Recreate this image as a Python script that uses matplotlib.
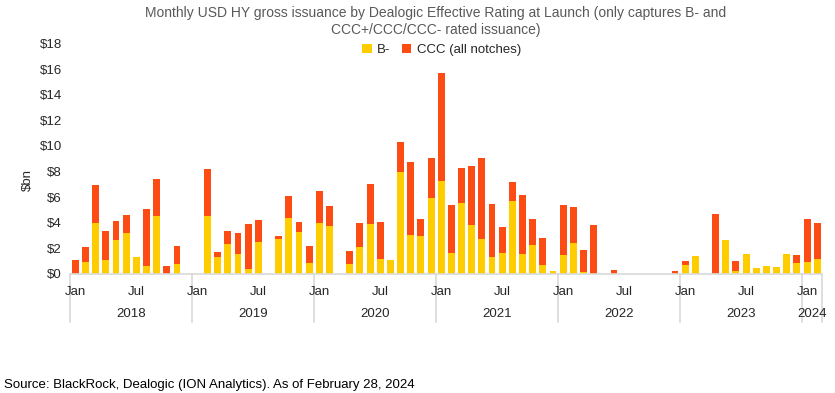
import matplotlib as mpl
mpl.use('Agg')
import matplotlib.pyplot as plt
import matplotlib.transforms as mtransforms
import numpy as np

plt.rcParams['font.family'] = ['Liberation Sans', 'DejaVu Sans']

# monthly issuance, Jan 2018 .. Feb 2024 ($bn)
b_minus = [
    0.0, 0.96, 4.0, 1.09, 2.65, 3.2, 1.33, 0.62, 4.55, 0.0, 0.8, 0.0,       # 2018
    0.0, 4.55, 1.35, 2.37, 1.59, 0.42, 2.52, 0.0, 2.73, 4.4, 3.3, 0.88,     # 2019
    4.0, 3.77, 0.0, 0.8, 2.1, 3.9, 1.17, 1.09, 7.96, 3.07, 2.97, 5.96,      # 2020
    7.26, 1.66, 5.54, 3.85, 2.73, 1.33, 1.66, 5.7, 1.59, 2.26, 0.7, 0.23,   # 2021
    1.48, 2.42, 0.16, 0.0, 0.0, 0.0, 0.0, 0.0, 0.0, 0.0, 0.0, 0.0,          # 2022
    0.7, 1.4, 0.0, 0.0, 2.65, 0.23, 1.56, 0.47, 0.62, 0.55, 1.56, 0.86,     # 2023
    0.94, 1.17,                                                              # 2024
]
ccc = [
    1.1, 1.15, 2.95, 2.27, 1.49, 1.4, 0.0, 4.45, 2.86, 0.62, 1.39, 0.0,
    0.0, 3.64, 0.37, 0.99, 1.61, 3.48, 1.69, 0.0, 0.24, 1.69, 0.76, 1.31,
    2.48, 1.56, 0.0, 1.0, 1.88, 3.12, 2.89, 0.0, 2.37, 5.67, 1.32, 3.09,
    8.43, 3.72, 2.73, 4.58, 6.32, 4.13, 2.03, 1.48, 4.58, 2.03, 2.11, 0.0,
    3.91, 2.81, 1.71, 3.82, 0.0, 0.31, 0.0, 0.0, 0.0, 0.0, 0.0, 0.23,
    0.31, 0.0, 0.0, 4.68, 0.0, 0.78, 0.0, 0.0, 0.0, 0.0, 0.0, 0.62,
    3.35, 2.81,
]
years = ['2018', '2019', '2020', '2021', '2022', '2023', '2024']
month_names = ['Jan', 'Feb', 'Mar', 'Apr', 'May', 'Jun',
               'Jul', 'Aug', 'Sep', 'Oct', 'Nov', 'Dec']

yellow = '#FFCC00'
red = '#FC4C14'
txt = '#262626'

n = len(b_minus)
x = np.arange(n)

fig = plt.figure(figsize=(8.35, 3.93), dpi=100)
ax = fig.add_axes([0.0842, 0.3028, 0.9006, 0.5868])

ax.bar(x, b_minus, width=0.68, color=yellow, label='B-')
ax.bar(x, ccc, width=0.68, bottom=b_minus, color=red, label='CCC (all notches)')

ax.set_xlim(-0.5, n - 0.5)
ax.set_ylim(0, 18)
ax.set_yticks(range(0, 19, 2))
ax.set_yticklabels(['$%d' % v for v in range(0, 19, 2)])
ax.tick_params(axis='y', length=0, labelsize=9.5, labelcolor=txt, pad=6)

for s in ['top', 'right', 'left']:
    ax.spines[s].set_visible(False)
ax.spines['bottom'].set_color('#d9d9d9')
ax.spines['bottom'].set_linewidth(1.2)

# category axis: months + years
ax.set_xticks([])
trans = mtransforms.blended_transform_factory(ax.transData, ax.transAxes)
for i in range(n):
    if month_names[i % 12] in ('Jan', 'Jul'):
        ax.text(i, -0.08, month_names[i % 12], transform=trans, ha='center',
                va='center', fontsize=9.5, color=txt)
bounds = [-0.5] + [k * 12 - 0.5 for k in range(1, len(years))] + [n - 0.5]
for k, yr in enumerate(years):
    ax.plot([bounds[k], bounds[k]], [0, -0.207], transform=trans,
            color='#d9d9d9', lw=1.2, clip_on=False)
    ax.text((bounds[k] + bounds[k + 1]) / 2, -0.175, yr, transform=trans,
            ha='center', va='center', fontsize=9.5, color=txt)
ax.plot([bounds[-1], bounds[-1]], [0, -0.207], transform=trans,
        color='#d9d9d9', lw=1.2, clip_on=False)

fig.text(0.034, 0.543, '$bn', rotation=90, ha='center', va='center',
         fontsize=9.5, color=txt)

fig.text(0.522, 0.945,
         'Monthly USD HY gross issuance by Dealogic Effective Rating at Launch (only captures B- and\n'
         'CCC+/CCC/CCC- rated issuance)',
         ha='center', va='center', fontsize=10, color='#595959', linespacing=1.3)

leg = fig.legend(loc='center', bbox_to_anchor=(0.529, 0.873), ncol=2, frameon=False,
                 fontsize=9.5, handlelength=0.7, handleheight=0.7,
                 handletextpad=0.4, columnspacing=0.9)
for t in leg.get_texts():
    t.set_color(txt)

fig.text(0.005, 0.02, 'Source: BlackRock, Dealogic (ION Analytics). As of February 28, 2024',
         ha='left', va='center', fontsize=9.5, color='black')

plt.savefig('out.png', dpi=100)
